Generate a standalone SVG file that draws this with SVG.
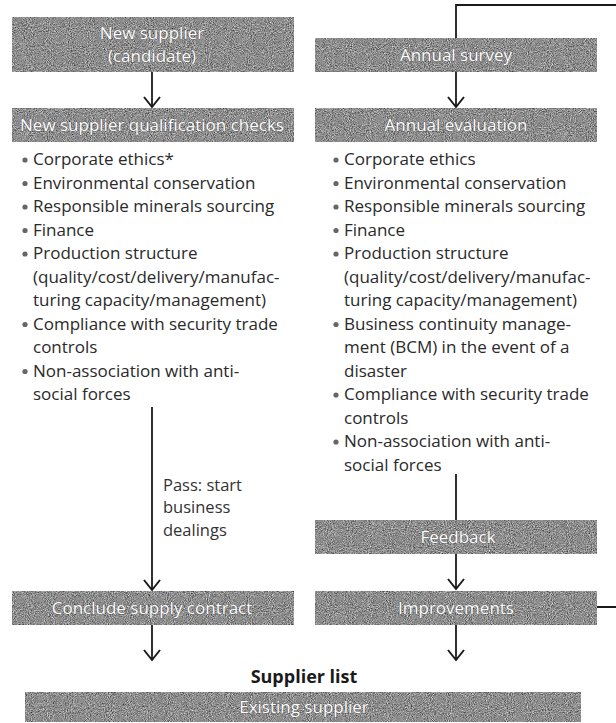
<svg xmlns="http://www.w3.org/2000/svg" width="616" height="723" viewBox="0 0 616 723">
<style>
  .box { fill: #8e8e8e; }
  .grain { filter: url(#grain); }
  .bt { font-family: "Open Sans", "Noto Sans", "Liberation Sans", sans-serif; font-size: 17px; fill: #ffffff; text-anchor: middle; stroke: #3a3a3a; stroke-width: 0.5px; paint-order: stroke; }
  .li { font-family: "Open Sans", "Noto Sans", "Liberation Sans", sans-serif; font-size: 17px; fill: #2a2a2a; }
  .lbl { font-family: "Open Sans", "Noto Sans", "Liberation Sans", sans-serif; font-size: 16.5px; fill: #333; }
  .hd { font-family: "Open Sans", "Noto Sans", "Liberation Sans", sans-serif; font-size: 18px; font-weight: bold; fill: #1a1a1a; text-anchor: middle; }
  .dot { fill: #666; }
  .ln { fill: none; stroke: #1a1a1a; stroke-width: 1.8; }
</style>
<defs>
  <filter id="grain" x="0" y="0" width="1" height="1" filterUnits="objectBoundingBox" color-interpolation-filters="sRGB">
    <feTurbulence type="fractalNoise" baseFrequency="0.95" numOctaves="2" seed="7" result="n"/>
    <feColorMatrix in="n" type="matrix" values="0.5 0.5 0.5 0 -0.2  0.5 0.5 0.5 0 -0.2  0.5 0.5 0.5 0 -0.2  0 0 0 0 1" result="g"/>
    <feComposite in="g" in2="SourceGraphic" operator="in"/>
  </filter>
  <marker id="chev" viewBox="-12 -10 14 20" refX="0" refY="0" markerWidth="14" markerHeight="20" markerUnits="userSpaceOnUse" orient="auto">
    <path d="M-10,-8 L0,0 L-10,8" fill="none" stroke="#1a1a1a" stroke-width="2"/>
  </marker>
</defs>
<rect width="616" height="723" fill="#ffffff"/>

<g id="connectors">
  <path class="ln" d="M152,72 V107" marker-end="url(#chev)"/>
  <path class="ln" d="M456,72 V107" marker-end="url(#chev)"/>
  <path class="ln" d="M152,407 V590" marker-end="url(#chev)"/>
  <path class="ln" d="M456,474 V520"/>
  <path class="ln" d="M456,554 V589" marker-end="url(#chev)"/>
  <path class="ln" d="M152,625 V660" marker-end="url(#chev)"/>
  <path class="ln" d="M456,625 V660" marker-end="url(#chev)"/>
  <path class="ln" d="M597,607 H630 V5 H456 V38"/>
  <g id="pass-label">
    <text class="lbl" x="163" y="491">Pass: start</text>
    <text class="lbl" x="163" y="513">business</text>
    <text class="lbl" x="163" y="536">dealings</text>
  </g>
</g>

<g id="new-supplier">
  <rect class="box grain" x="12" y="17" width="282" height="55"/>
  <text class="bt" x="152" y="39">New supplier</text>
  <text class="bt" x="152" y="62">(candidate)</text>
</g>

<g id="annual-survey">
  <rect class="box grain" x="315" y="38" width="282" height="34"/>
  <text class="bt" x="456" y="61">Annual survey</text>
</g>

<g id="qualification-check">
  <rect class="box grain" x="12" y="108" width="282" height="34"/>
  <text class="bt" x="152" y="131">New supplier qualification checks</text>
</g>

<g id="annual-evaluation">
  <rect class="box grain" x="315" y="108" width="282" height="34"/>
  <text class="bt" x="456" y="131">Annual evaluation</text>
</g>

<g id="qualification-items">
  <circle class="dot" cx="25" cy="160" r="2.6"/>
  <circle class="dot" cx="25" cy="183.5" r="2.6"/>
  <circle class="dot" cx="25" cy="207" r="2.6"/>
  <circle class="dot" cx="25" cy="230.5" r="2.6"/>
  <circle class="dot" cx="25" cy="254" r="2.6"/>
  <circle class="dot" cx="25" cy="324.5" r="2.6"/>
  <circle class="dot" cx="25" cy="371.5" r="2.6"/>
  <text class="li" x="33" y="165">Corporate ethics*</text>
  <text class="li" x="33" y="188.5">Environmental conservation</text>
  <text class="li" x="33" y="212">Responsible minerals sourcing</text>
  <text class="li" x="33" y="235.5">Finance</text>
  <text class="li" x="33" y="259">Production structure</text>
  <text class="li" x="33" y="282.5">(quality/cost/delivery/manufac-</text>
  <text class="li" x="33" y="306">turing capacity/management)</text>
  <text class="li" x="33" y="329.5">Compliance with security trade</text>
  <text class="li" x="33" y="353">controls</text>
  <text class="li" x="33" y="376.5">Non-association with anti-</text>
  <text class="li" x="33" y="400">social forces</text>
</g>

<g id="evaluation-items">
  <circle class="dot" cx="336" cy="160" r="2.6"/>
  <circle class="dot" cx="336" cy="183.5" r="2.6"/>
  <circle class="dot" cx="336" cy="207" r="2.6"/>
  <circle class="dot" cx="336" cy="230.5" r="2.6"/>
  <circle class="dot" cx="336" cy="254" r="2.6"/>
  <circle class="dot" cx="336" cy="324.5" r="2.6"/>
  <circle class="dot" cx="336" cy="395" r="2.6"/>
  <circle class="dot" cx="336" cy="442" r="2.6"/>
  <text class="li" x="344" y="165">Corporate ethics</text>
  <text class="li" x="344" y="188.5">Environmental conservation</text>
  <text class="li" x="344" y="212">Responsible minerals sourcing</text>
  <text class="li" x="344" y="235.5">Finance</text>
  <text class="li" x="344" y="259">Production structure</text>
  <text class="li" x="344" y="282.5">(quality/cost/delivery/manufac-</text>
  <text class="li" x="344" y="306">turing capacity/management)</text>
  <text class="li" x="344" y="329.5">Business continuity manage-</text>
  <text class="li" x="344" y="353">ment (BCM) in the event of a</text>
  <text class="li" x="344" y="376.5">disaster</text>
  <text class="li" x="344" y="400">Compliance with security trade</text>
  <text class="li" x="344" y="423.5">controls</text>
  <text class="li" x="344" y="447">Non-association with anti-</text>
  <text class="li" x="344" y="470.5">social forces</text>
</g>

<g id="feedback">
  <rect class="box grain" x="315" y="520" width="282" height="34"/>
  <text class="bt" x="458" y="543">Feedback</text>
</g>

<g id="conclude-contract">
  <rect class="box grain" x="12" y="591" width="282" height="34"/>
  <text class="bt" x="152" y="614">Conclude supply contract</text>
</g>

<g id="improvements">
  <rect class="box grain" x="315" y="591" width="282" height="34"/>
  <text class="bt" x="456" y="614">Improvements</text>
</g>

<g id="supplier-list">
  <text class="hd" x="304" y="683">Supplier list</text>
  <rect class="box grain" x="25" y="692" width="556" height="30"/>
  <text class="bt" x="304" y="713">Existing supplier</text>
</g>
</svg>
